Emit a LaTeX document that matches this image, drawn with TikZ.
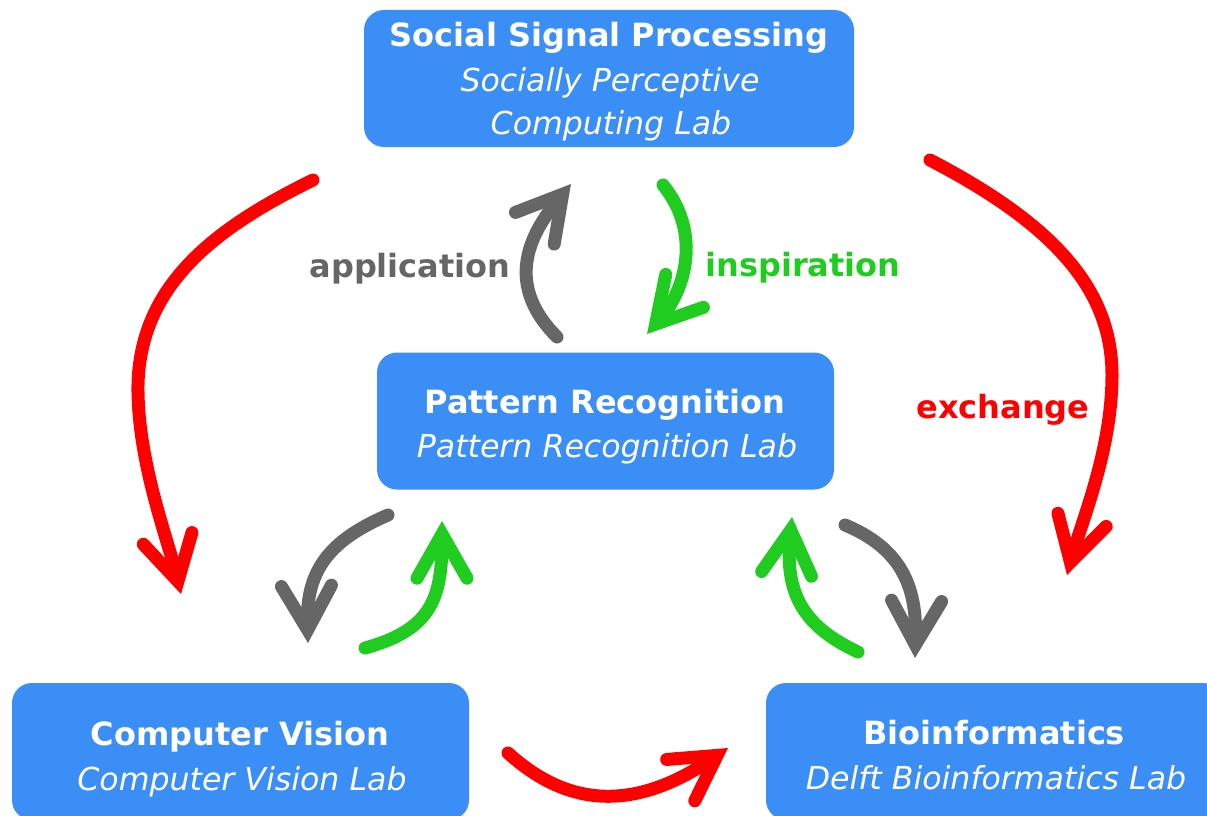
\documentclass[tikz,border=0pt]{standalone}
\usepackage{fontspec}
\setmainfont{DejaVu Sans}
\usetikzlibrary{arrows.meta}
\definecolor{boxblue}{HTML}{3A8EF6}
\definecolor{arrred}{HTML}{FF0000}
\definecolor{arrgreen}{HTML}{1FCC1F}
\definecolor{arrgray}{HTML}{666666}
\begin{document}
\begin{tikzpicture}[x=1pt,y=-1pt,
  box/.style={fill=boxblue, rounded corners=20pt, minimum height=137pt, inner sep=0pt, draw=none},
  btxt/.style={text=white, font=\fontsize{32}{44}\selectfont\bfseries, anchor=base, inner sep=0pt},
  itxt/.style={text=white, font=\fontsize{31.6}{44}\selectfont\itshape, anchor=base, inner sep=0pt},
  lbl/.style={font=\fontsize{32}{44}\selectfont\bfseries, anchor=base, inner sep=0pt},
  arr/.style={line width=13pt, line cap=round,
    -{Straight Barb[length=44pt,width=50pt,line cap=round,line join=miter]}}
]
\useasboundingbox (0,0) rectangle (1207,816);
\clip (0,0) rectangle (1207,816);

% boxes
\node[box, minimum width=490pt] (ssp) at (609,78.5) {};
\node[box, minimum width=457pt] (pr) at (605.5,421) {};
\node[box, minimum width=457pt] (cv) at (240.5,751.5) {};
\node[box, minimum width=457pt] (bio) at (994.5,751.5) {};

% box texts
\node[btxt] (ssp1) at (609,47) {Social Signal Processing};
\node[itxt] (ssp2) at (610,91) {Socially Perceptive};
\node[itxt] (ssp3) at (611,134) {Computing Lab};
\node[btxt] (pr1) at (605,413) {Pattern Recognition};
\node[itxt] (pr2) at (607,457) {Pattern Recognition Lab};
\node[btxt] (cv1) at (240,745) {Computer Vision};
\node[itxt] (cv2) at (242,790) {Computer Vision Lab};
\node[btxt] (bio1) at (994,744) {Bioinformatics};
\node[itxt] (bio2) at (996,789) {Delft Bioinformatics Lab};

% labels
\node[lbl, text=arrgray] (lapp) at (410,277) {application};
\node[lbl, text=arrgreen] (lins) at (803,276) {inspiration};
\node[lbl, text=arrred] (lexc) at (1003,418) {exchange};

% arrow end points
\coordinate (rl0) at (313,180);  \coordinate (rl1) at (181,594);
\coordinate (rr0) at (930,160);  \coordinate (rr1) at (1067,575);
\coordinate (rb0) at (508,753);  \coordinate (rb1) at (728,748);
\coordinate (ga0) at (557,337);  \coordinate (ga1) at (571,184);
\coordinate (gi0) at (663,185);  \coordinate (gi1) at (647,334);
\coordinate (gc0) at (388,515);  \coordinate (gc1) at (308,643);
\coordinate (gg0) at (365,648);  \coordinate (gg1) at (442,521);
\coordinate (bg0) at (858,652);  \coordinate (bg1) at (792,517);
\coordinate (bb0) at (845,525);  \coordinate (bb1) at (915,658);

% red exchange arrows
\draw[arr, arrred] (rl0) .. controls (215,228) and (140,285) .. (138,385)
  .. controls (137,460) and (168,540) .. (rl1);
\draw[arr, arrred] (rr0) .. controls (1055,225) and (1112,290) .. (1112,375)
  .. controls (1112,450) and (1082,520) .. (rr1);
\draw[arr, arrred] (rb0) .. controls (560,800) and (625,818) .. (rb1);

% application / inspiration
\draw[arr, arrgray] (ga0) .. controls (500,280) and (535,228) .. (ga1);
\draw[arr, arrgreen] (gi0) .. controls (700,230) and (688,287) .. (gi1);

% lower pairs
\draw[arr, arrgray] (gc0) .. controls (330,540) and (306,570) .. (gc1);
\draw[arr, arrgreen] (gg0) .. controls (430,630) and (442,600) .. (gg1);
\draw[arr, arrgreen] (bg0) .. controls (800,625) and (785,590) .. (bg1);
\draw[arr, arrgray] (bb0) .. controls (900,548) and (917,585) .. (bb1);
\end{tikzpicture}
\end{document}
